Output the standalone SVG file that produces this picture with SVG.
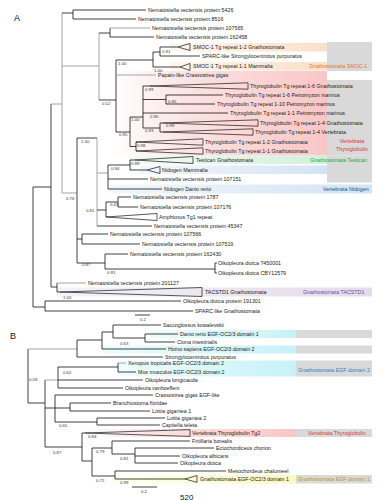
<svg xmlns="http://www.w3.org/2000/svg" width="380" height="500" viewBox="0 0 380 500">
<defs>
<linearGradient id="gOr" x1="0" x2="1" y1="0" y2="0"><stop offset="0" stop-color="#fff6ee"/><stop offset="1" stop-color="#fbe0c9"/></linearGradient>
<linearGradient id="gPk" x1="0" x2="1" y1="0" y2="0"><stop offset="0" stop-color="#ffffff"/><stop offset="0.35" stop-color="#fde3e3"/><stop offset="1" stop-color="#f9c6c6"/></linearGradient>
<linearGradient id="gGr" x1="0" x2="1" y1="0" y2="0"><stop offset="0" stop-color="#f4fbf6"/><stop offset="1" stop-color="#d3efda"/></linearGradient>
<linearGradient id="gBl" x1="0" x2="1" y1="0" y2="0"><stop offset="0" stop-color="#f3f7fc"/><stop offset="1" stop-color="#d3e3f4"/></linearGradient>
<linearGradient id="gLv" x1="0" x2="1" y1="0" y2="0"><stop offset="0" stop-color="#f4f3f6"/><stop offset="1" stop-color="#e2dcea"/></linearGradient>
<linearGradient id="gCy" x1="0" x2="1" y1="0" y2="0"><stop offset="0" stop-color="#effcfd"/><stop offset="1" stop-color="#c6f2f7"/></linearGradient>
<linearGradient id="gYe" x1="0" x2="1" y1="0" y2="0"><stop offset="0" stop-color="#fffff0"/><stop offset="1" stop-color="#fcf8bd"/></linearGradient>
</defs>
<style>
.b{stroke:#111;stroke-width:0.8;fill:none}
.g{stroke:#9b9b9b;stroke-width:0.9;fill:none}
.tri{stroke:#111;stroke-width:0.7;fill:none}
.t{font-family:"Liberation Sans",Arial,sans-serif;font-size:5.3px;fill:#222}
.s{font-family:"Liberation Sans",Arial,sans-serif;font-size:4.3px;fill:#333}
.L{font-family:"Liberation Sans",Arial,sans-serif;font-size:9px;fill:#111}
.gy{fill:#d9d9d9}
</style>

<g id="backgrounds">
<rect x="170" y="43" width="157" height="8.5" fill="url(#gOr)"/>
<rect x="170" y="62" width="157" height="8.5" fill="url(#gOr)"/>
<rect class="gy" x="327" y="42" width="45" height="29"/>
<rect x="112" y="71" width="215" height="84.5" fill="url(#gPk)"/>
<rect class="gy" x="327" y="80" width="45" height="75.5"/>
<rect x="130" y="155.5" width="197" height="8.5" fill="url(#gGr)"/>
<rect x="140" y="165.5" width="187" height="8.5" fill="url(#gBl)"/>
<rect class="gy" x="327" y="155.5" width="45" height="27"/>
<rect x="110" y="184.5" width="262" height="9" fill="url(#gBl)"/>
<rect x="57" y="287.5" width="315" height="9" fill="url(#gLv)"/>
<rect x="150" y="330" width="146" height="8" fill="url(#gCy)"/>
<rect class="gy" x="296" y="330" width="76" height="8"/>
<rect x="102" y="345.5" width="194" height="8" fill="url(#gCy)"/>
<rect class="gy" x="296" y="345.5" width="76" height="8"/>
<rect x="118" y="360.5" width="178" height="16" fill="url(#gCy)"/>
<rect class="gy" x="296" y="360.5" width="76" height="16"/>
<rect x="82" y="429" width="214" height="8" fill="url(#gPk)"/>
<rect class="gy" x="296" y="429" width="76" height="8"/>
<rect x="112" y="475" width="184" height="8.5" fill="url(#gYe)"/>
<rect class="gy" x="296" y="475" width="76" height="8.5"/>
</g>

<g id="connectors">
<path class="b" d="M33 187V307M33 187H51M33 307H45"/>
<path class="b" d="M45 301V311M45 301H181M45 311H193"/>
<path class="b" d="M51 104V287M51 287H57"/>
<path class="g" d="M51 104H62"/>
<path class="b" d="M57 283V292M57 292H60"/>
<path class="g" d="M57 283H86"/>
<path class="g" d="M62 13V193M62 66H99M62 193H77"/>
<path class="b" d="M62 13H73M73 10V19M73 10H146M73 19H136"/>
<path class="g" d="M99 33V100"/>
<path class="b" d="M99 33H110M99 100H116M110 28V37M110 37H154"/>
<path class="g" d="M110 28H150"/>
<path class="b" d="M116 60V132M116 60H153M116 132H130"/>
<path class="g" d="M116 75H156"/>
<path class="b" d="M153 52V67M153 52H160M153 67H180M160 47V56M160 47H178M160 56H200"/>
<path class="b" d="M130 117V146.5M130 117H143M130 146.5H136"/>
<path class="b" d="M143 86V128M143 86H150M143 99.5H166M143 113H228M143 128H160"/>
<path class="b" d="M166 95V104M166 95H223M166 104H215"/>
<path class="b" d="M160 123V132M160 123H163M160 132H163"/>
<path class="b" d="M136 142V151"/>
<path class="b" d="M77 138V263M77 138H97M77 239H82M77 263H105"/>
<path class="g" d="M97 138V226"/>
<path class="g" d="M97 173H108" stroke-width="1.6"/>
<path class="b" d="M97 210H106M97 226H152"/>
<path class="b" d="M108 165V189M108 165H130M108 179H148M108 189H162"/>
<path class="b" d="M130 160V170M130 160H135M130 170H147"/>
<path class="b" d="M106 202V217M106 202H118M118 197V207M118 197H131M118 207H138"/>
<path class="b" d="M82 234V244M82 234H108M82 244H140"/>
<path class="b" d="M105 254V269M105 254H128M105 269H215M215 263V273M215 263H217M215 273H217"/>
<path class="b" d="M135 315H150"/>
<polygon class="tri" points="178,47 190,43.5 190,50.5"/>
<polygon class="tri" points="180,67 190,63.5 190,70.5"/>
<polygon class="tri" points="150,86 248,82.8 248,89.2"/>
<polygon class="tri" points="163,123 258,119.8 258,126.2"/>
<polygon class="tri" points="163,132 253,128.8 253,135.2"/>
<polygon class="tri" points="136,142 203,138.8 203,145.2"/>
<polygon class="tri" points="136,151 203,147.8 203,154.2"/>
<polygon class="tri" points="135,160 193,156.5 193,163.5"/>
<polygon class="tri" points="147,170 160,166.5 160,173.5"/>
<polygon class="tri" points="106,217 157,213.5 157,220.5"/>
<polygon class="tri" points="60,292 202,287.5 202,296.5"/>
<path class="b" d="M28 349V403M28 403H45"/>
<path class="g" d="M28 349H77"/>
<path class="b" d="M77 340V357M77 340H102M77 357H163M102 332V349M102 332H113M102 349H166"/>
<path class="b" d="M113 325V338M113 325H161M113 338H145M145 334V342M145 334H178M145 342H175"/>
<path class="b" d="M45 380V447M45 408H55M45 447H82"/>
<path class="g" d="M45 380H58"/>
<path class="b" d="M58 367V388M58 367H118M58 380H143M58 388H123M118 363V372M118 372H136"/>
<path class="g" d="M118 363H126"/>
<path class="b" d="M55 395V422M55 395H153M55 408H70M55 422H97M70 403V411M70 403H111M70 411H150M97 418V425M97 418H165M97 425H160"/>
<path class="b" d="M82 433V461M82 433H85M82 461H92M92 448V476M92 448H112M92 476H115"/>
<path class="b" d="M112 441V454M112 441H190M112 454H135M135 448V463M135 448H214M135 456H180M135 463H178"/>
<path class="b" d="M115 471V479M115 471H226M115 479H185"/>
<path class="b" d="M132 487H157"/>
<polygon class="tri" points="85,433 190,429.6 190,436.4" stroke="#c33"/>
<polygon class="tri" points="185,479 197,475.6 197,482.4"/>
</g>

<g id="panelA-labels">
<text class="L" x="14" y="21">A</text>
<text class="t" x="148" y="11.8">Nematostella vectensis protein 5426</text>
<text class="t" x="138" y="20.8">Nematostella vectensis protein 8516</text>
<text class="t" x="152" y="29.8">Nematostella vectensis protein 107565</text>
<text class="t" x="156" y="38.8">Nematostella vectensis protein 162458</text>
<text class="t" x="193" y="48.8">SMOC-1 Tg repeat 1-2 Gnathostomata</text>
<text class="t" x="202" y="57.8">SPARC-like Strongylocentrotus purpuratus</text>
<text class="t" x="193" y="67.8">SMOC-1 Tg repeat 1-1 Mammalia</text>
<text class="t" x="158" y="76.8">Papain-like Crassostrea gigas</text>
<text class="t" x="250" y="87.8">Thyroglobulin Tg repeat 1-6 Gnathostomata</text>
<text class="t" x="225" y="96.8">Thyroglobulin Tg repeat 1-6 Petromyzon marinus</text>
<text class="t" x="217" y="105.8">Thyroglobulin Tg repeat 1-10 Petromyzon marinus</text>
<text class="t" x="230" y="114.8">Thyroglobulin Tg repeat 1-1 Petromyzon marinus</text>
<text class="t" x="260" y="124.8">Thyroglobulin Tg repeat 1-4 Gnathostomata</text>
<text class="t" x="255" y="133.8">Thyroglobulin Tg repeat 1-4 Vertebrata</text>
<text class="t" x="205" y="143.8">Thyroglobulin Tg repeat 1-2 Gnathostomata</text>
<text class="t" x="205" y="152.8">Thyroglobulin Tg repeat 1-1 Gnathostomata</text>
<text class="t" x="196" y="161.8">Testican Gnathostomata</text>
<text class="t" x="162" y="171.8">Nidogen Mammalia</text>
<text class="t" x="150" y="180.8">Nematostella vectensis protein 107151</text>
<text class="t" x="164" y="190.8">Nidogen Danio rerio</text>
<text class="t" x="133" y="198.8">Nematostella vectensis protein 1787</text>
<text class="t" x="140" y="208.8">Nematostella vectensis protein 107176</text>
<text class="t" x="159" y="218.8">Amphioxus Tg1 repeat</text>
<text class="t" x="154" y="227.8">Nematostella vectensis protein 45347</text>
<text class="t" x="110" y="235.8">Nematostella vectensis protein 107566</text>
<text class="t" x="142" y="245.8">Nematostella vectensis protein 107519</text>
<text class="t" x="130" y="255.8">Nematostella vectensis protein 162430</text>
<text class="t" x="218" y="264.8">Oikopleura dioica 7450001</text>
<text class="t" x="218" y="274.8">Oikopleura dioica CBY12579</text>
<text class="t" x="88" y="284.8">Nematostella vectensis protein 201127</text>
<text class="t" x="205" y="293.8">TACSTD1 Gnathostomata</text>
<text class="t" x="183" y="302.8">Oikopleura dioica protein 191301</text>
<text class="t" x="195" y="312.8">SPARC like Gnathostomata</text>
<text class="t" x="309" y="67.8" style="fill:#e2761f">Gnathostomata SMOC-1</text>
<text class="t" x="352" y="143" text-anchor="middle" style="fill:#d8363a">Vertebrata</text>
<text class="t" x="352" y="151" text-anchor="middle" style="fill:#d8363a">Thyroglobulin</text>
<text class="t" x="310" y="161.8" style="fill:#1aa64a">Gnathostomata Testican</text>
<text class="t" x="323" y="190.8" style="fill:#1f4e8c">Vertebrata Nidogen</text>
<text class="t" x="303" y="293.8" style="fill:#7a3fa0">Gnathostomata TACSTD1</text>
<text class="s" x="162" y="53">0.91</text>
<text class="s" x="118" y="64.5">1.00</text>
<text class="s" x="154" y="71.5">1.00</text>
<text class="s" x="102" y="105">0.52</text>
<text class="s" x="145" y="90.5">0.99</text>
<text class="s" x="168" y="102.5">0.95</text>
<text class="s" x="150" y="117.5">0.90</text>
<text class="s" x="166" y="127">0.99</text>
<text class="s" x="145" y="132">0.93</text>
<text class="s" x="131" y="121">1.00</text>
<text class="s" x="119" y="136">0.95</text>
<text class="s" x="137" y="147">0.98</text>
<text class="s" x="81" y="142.5">1.00</text>
<text class="s" x="66" y="199.5">0.76</text>
<text class="s" x="111" y="170">0.94</text>
<text class="s" x="131" y="164.5">0.99</text>
<text class="s" x="86" y="212">0.81</text>
<text class="s" x="110" y="206">0.43</text>
<text class="s" x="82" y="266">0.87</text>
<text class="s" x="107" y="273.5">0.91</text>
<text class="s" x="63" y="298.5">1.00</text>
<text class="s" x="140" y="321">0.2</text>
</g>

<g id="panelB-labels">
<text class="L" x="10" y="339">B</text>
<text class="t" x="163" y="326.8">Saccoglossus kowalevskii</text>
<text class="t" x="180" y="335.8">Danio rerio EGF-OC2/3 domain 1</text>
<text class="t" x="177" y="343.8">Ciona intestinalis</text>
<text class="t" x="168" y="350.8">Homo sapiens EGF-OC2/3 domain 2</text>
<text class="t" x="165" y="358.8">Strongylocentrotus purpuratus</text>
<text class="t" x="128" y="364.8">Xenopus tropicalis EGF-OC2/3 domain 2</text>
<text class="t" x="138" y="373.8">Mus musculus EGF-OC2/3 domain 2</text>
<text class="t" x="145" y="381.8">Oikopleura longicauda</text>
<text class="t" x="125" y="389.8">Oikopleura vanhoeffeni</text>
<text class="t" x="155" y="396.8">Crassostrea gigas EGF-like</text>
<text class="t" x="113" y="404.8">Branchiostoma floridae</text>
<text class="t" x="152" y="412.8">Lottia gigantea 1</text>
<text class="t" x="167" y="419.8">Lottia gigantea 2</text>
<text class="t" x="162" y="426.8">Capitella teleta</text>
<text class="t" x="192" y="434.8">Vertebrata Thyroglobulin Tg2</text>
<text class="t" x="192" y="442.8">Fritillaria borealis</text>
<text class="t" x="216" y="449.8">Ectochordiceus chorion</text>
<text class="t" x="182" y="457.8">Oikopleura albicans</text>
<text class="t" x="180" y="464.8">Oikopleura dioica</text>
<text class="t" x="228" y="472.8">Mesochordeus chalumeel</text>
<text class="t" x="200" y="480.8">Gnathostomata EGF-OC2/3 domain 1</text>
<text class="t" x="298" y="371.5" style="fill:#2f7fc1">Gnathostomata EGF domain 2</text>
<text class="t" x="308" y="434.8" style="fill:#d8363a">Vertebrata Thyroglobulin</text>
<text class="t" x="298" y="480.8" style="fill:#b89a18">Gnathostomata EGF domain 1</text>
<text class="s" x="120" y="344.5">0.63</text>
<text class="s" x="29" y="381">0.58</text>
<text class="s" x="63" y="374">0.62</text>
<text class="s" x="59" y="427">0.65</text>
<text class="s" x="88" y="438">0.84</text>
<text class="s" x="53" y="454">0.87</text>
<text class="s" x="96" y="453">0.79</text>
<text class="s" x="120" y="460">0.81</text>
<text class="s" x="96" y="482">0.72</text>
<text class="s" x="120" y="484">0.99</text>
<text class="s" x="141" y="493">0.2</text>
<text x="180" y="499.5" style="font-family:'Liberation Sans',Arial,sans-serif;font-size:8px;fill:#111">520</text>
</g>
</svg>
